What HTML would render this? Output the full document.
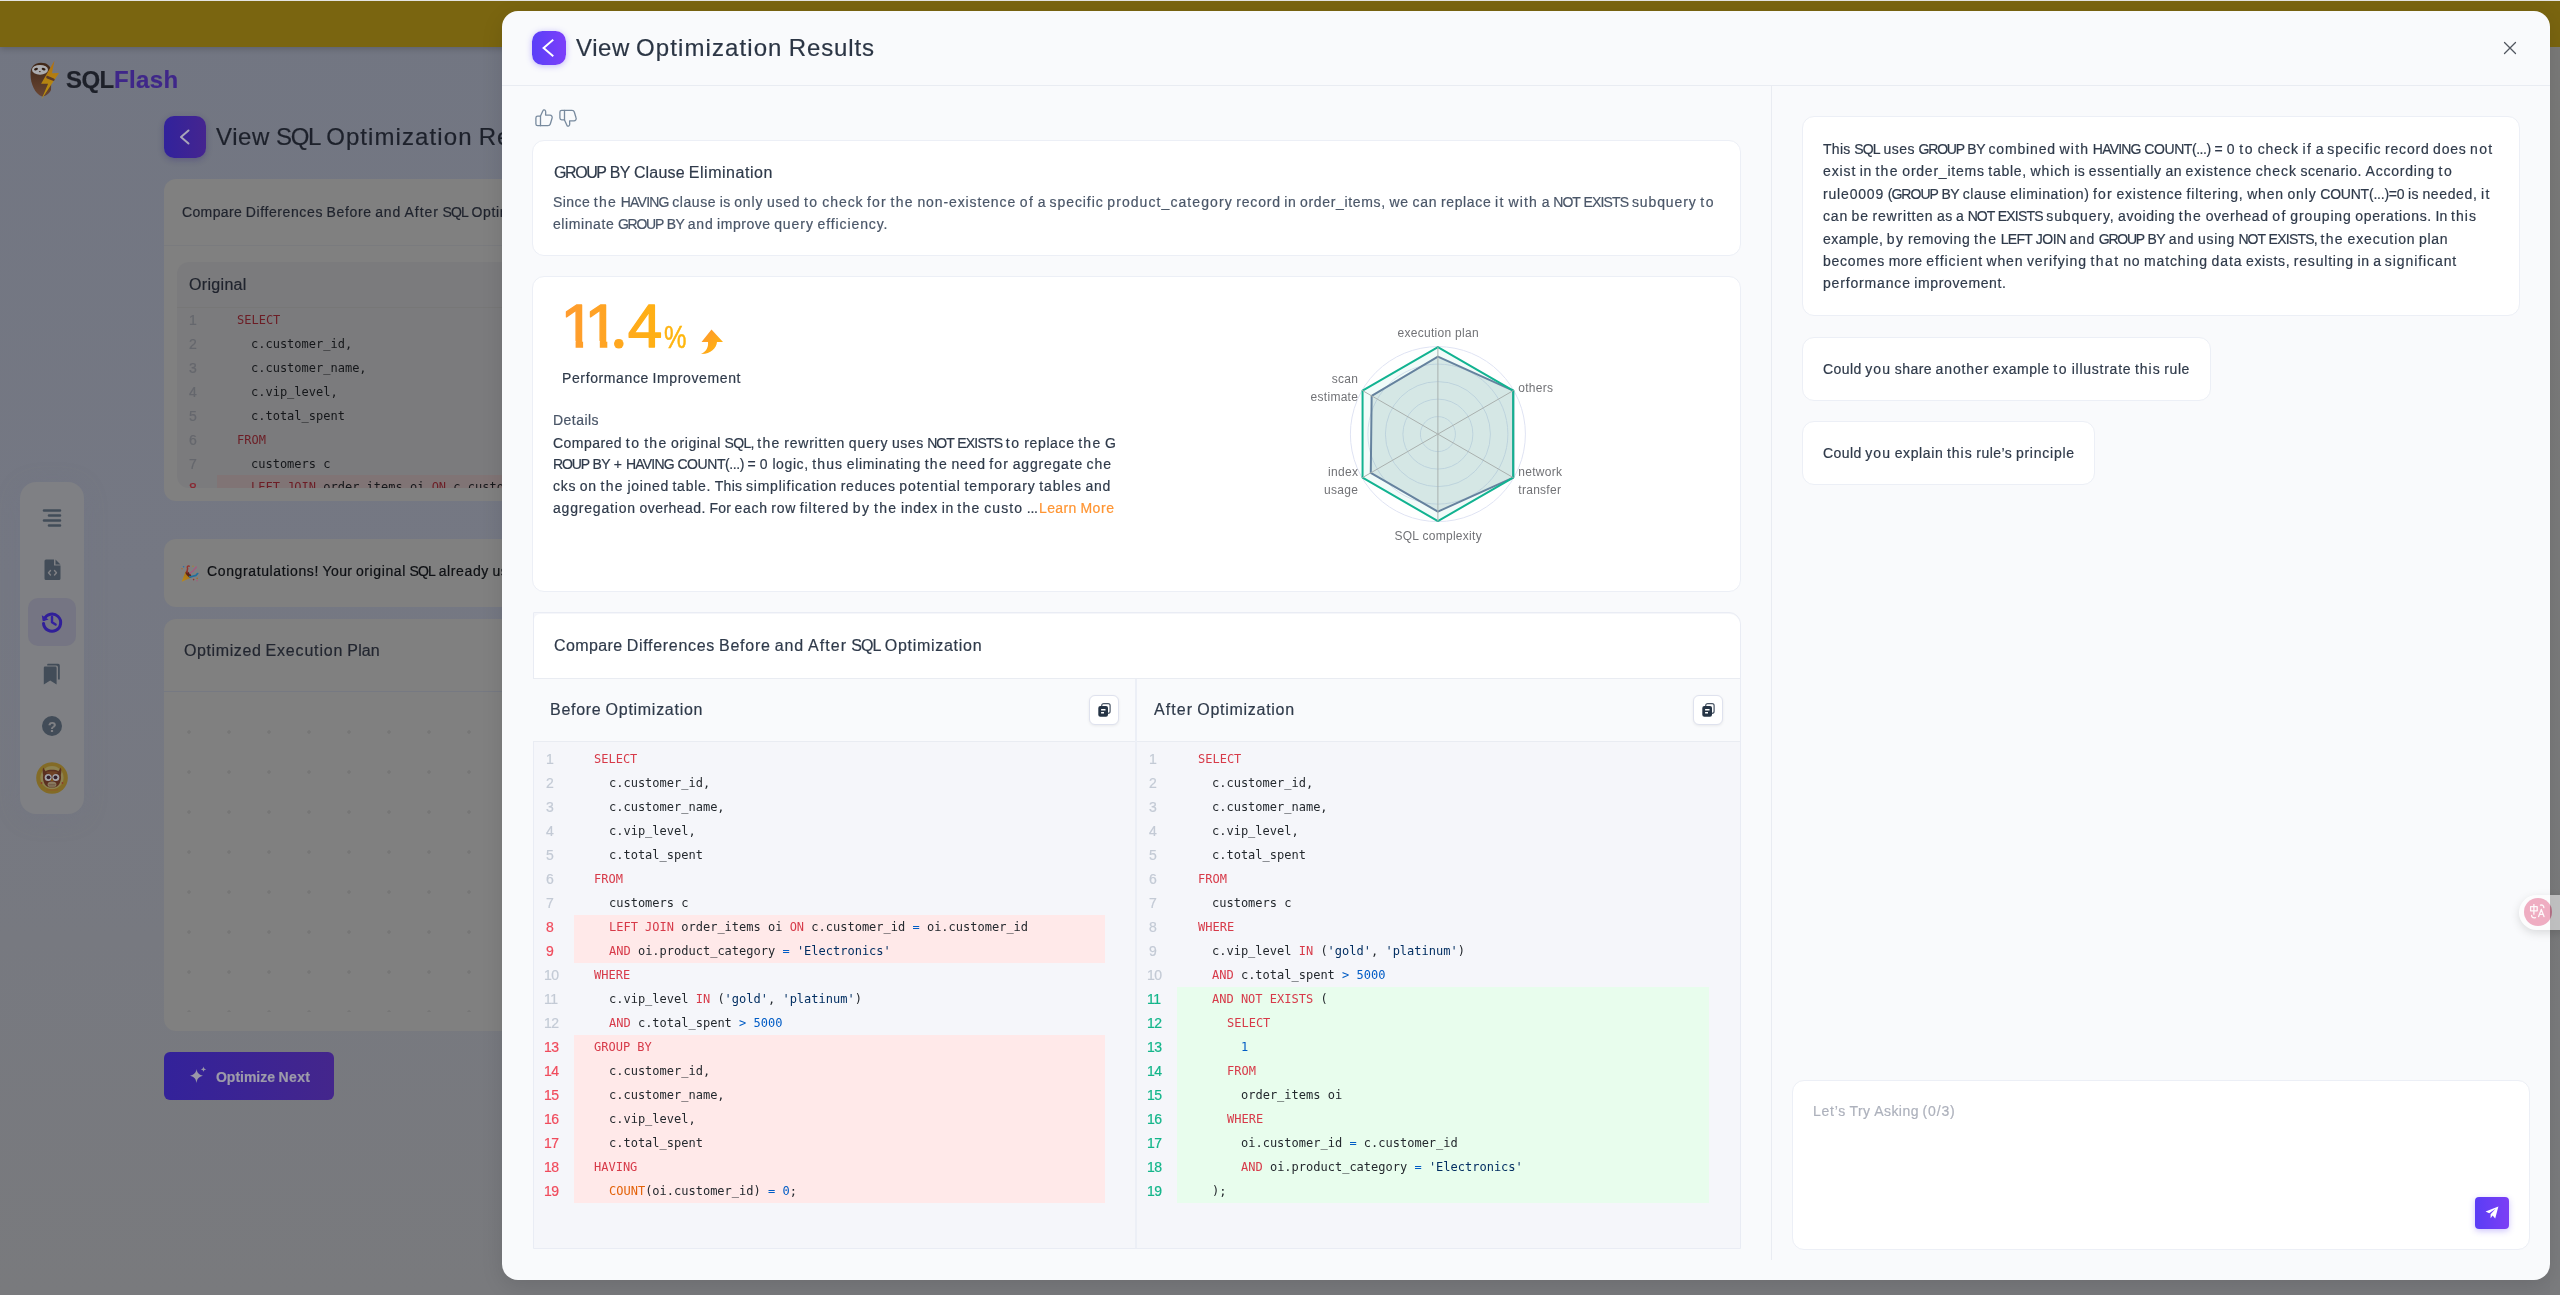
<!DOCTYPE html>
<html lang="en"><head><meta charset="utf-8"><title>SQLFlash - View Optimization Results</title>
<style>
html,body{margin:0;padding:0}
body{width:2560px;height:1295px;overflow:hidden;position:relative;font-family:"Liberation Sans",sans-serif;background:#77797f}
.t{position:absolute;white-space:nowrap;margin:0;will-change:transform;-webkit-text-stroke:0.2px currentColor}
.b{position:absolute;box-sizing:border-box}
.code{position:absolute;white-space:pre;will-change:transform;font-family:"DejaVu Sans Mono","Liberation Mono",monospace;font-size:12px;line-height:24px;color:#24292e}
.k{color:#d73a49}.o{color:#005cc5}.n{color:#005cc5}.s{color:#032f62}.f{color:#e36209}
svg{position:absolute;overflow:visible}
</style></head><body>
<div class="b" style="left:0px;top:0px;width:2560px;height:1295px;background:linear-gradient(180deg,#727682 0%,#757883 45%,#797a7d 100%)"></div>
<div class="b" style="left:0px;top:0px;width:2560px;height:47px;background:#7a6510;box-shadow:0 2px 6px rgba(0,0,0,.18)"></div>
<div class="b" style="left:0px;top:0px;width:2560px;height:1px;background:#e4e4e2"></div>
<svg style="left:30px;top:60px" width="30" height="40" viewBox="0 0 30 40">
<defs><linearGradient id="sl" x1="0" y1="0" x2="0" y2="1"><stop offset="0" stop-color="#3f2718"/><stop offset="1" stop-color="#6a4633"/></linearGradient>
<linearGradient id="bo" x1="0" y1="0" x2="0" y2="1"><stop offset="0" stop-color="#b06f12"/><stop offset="1" stop-color="#b8940f"/></linearGradient></defs>
<path d="M0.5 14C0.5 6 5 2.7 11 2.7C17 2.7 21 6 21.5 12L21 30C19 34 15 36.5 12 36.4C5 34 0.5 24 0.5 14Z" fill="url(#sl)"/>
<ellipse cx="10" cy="9.8" rx="8" ry="4.9" fill="#acacaf"/>
<ellipse cx="6" cy="9.2" rx="2" ry="1.2" transform="rotate(-18 6 9.2)" fill="#2e1c12"/><ellipse cx="13.6" cy="9.2" rx="2" ry="1.2" transform="rotate(18 13.6 9.2)" fill="#2e1c12"/>
<ellipse cx="9.8" cy="11.6" rx="1" ry="0.7" fill="#4a3426"/>
<path d="M24.5 0.5L22 13.2L29 12.9L11.4 39.6L18.1 23.8L11.1 23.8Z" fill="url(#bo)"/>
<path d="M17.5 17.2L23.4 19.6" stroke="#5a3a28" stroke-width="2.6" stroke-linecap="round"/>
</svg>
<div class="t" style="left:66px;top:66.00px;font-size:24px;line-height:27px;color:#1d2029;letter-spacing:-0.615px;font-weight:700;">SQL</div>
<div class="t" style="left:113.8px;top:66.00px;font-size:24px;line-height:27px;color:#3f2789;letter-spacing:0.366px;font-weight:700;">Flash</div>
<div class="b" style="left:164px;top:116px;width:42px;height:42px;border-radius:10px;background:linear-gradient(90deg,#31229c,#45258f);box-shadow:0 2px 6px rgba(40,30,120,.3)"></div>
<svg style="left:177px;top:127px" width="16" height="20" viewBox="0 0 16 20"><path d="M11.5 3.5 L4 10 L11.5 16.5" fill="none" stroke="#a9a6b8" stroke-width="2" stroke-linecap="round" stroke-linejoin="round"/></svg>
<div class="t" style="left:216.25px;top:123.00px;font-size:24px;line-height:27px;color:#1d212b;word-spacing:-0.500px;"><span style="letter-spacing:0.586px">View</span> <span style="letter-spacing:-1.380px">SQL</span> <span style="letter-spacing:1.087px">Optimization</span> <span style="letter-spacing:0.888px">Results</span></div>
<div class="b" style="left:164px;top:179px;width:400px;height:321.5px;border-radius:12px;background:#808080"></div>
<div class="t" style="left:182.00px;top:204.00px;font-size:14px;line-height:16px;color:#1f232d;word-spacing:-0.297px;"><span style="letter-spacing:0.359px">Compare</span> <span style="letter-spacing:0.614px">Differences</span> <span style="letter-spacing:0.641px">Before</span> <span style="letter-spacing:0.766px">and</span> <span style="letter-spacing:0.938px">After</span> <span style="letter-spacing:-0.812px">SQL</span> <span style="letter-spacing:0.635px">Optimization</span></div>
<div class="b" style="left:164px;top:245px;width:400px;height:1px;background:#7a7b7e"></div>
<div class="b" style="left:177px;top:262px;width:400px;height:226px;border-radius:12px 0 0 12px;background:#7b7b7d"></div>
<div class="t" style="left:189.00px;top:276.00px;font-size:16px;line-height:17px;color:#20242e;word-spacing:-0.344px;"><span style="letter-spacing:0.324px">Original</span></div>
<div class="b" style="left:177px;top:307px;width:400px;height:1px;background:#777"></div>
<div class="t" style="left:189px;top:312.00px;font-size:14px;line-height:16px;color:#65676d;">1</div>
<div class="code" style="left:237.0px;top:308px;color:#15171a"><span style="color:#6c1d25">SELECT</span></div>
<div class="t" style="left:189px;top:336.00px;font-size:14px;line-height:16px;color:#65676d;">2</div>
<div class="code" style="left:251.45px;top:332px;color:#15171a">c.customer_id,</div>
<div class="t" style="left:189px;top:360.00px;font-size:14px;line-height:16px;color:#65676d;">3</div>
<div class="code" style="left:251.45px;top:356px;color:#15171a">c.customer_name,</div>
<div class="t" style="left:189px;top:384.00px;font-size:14px;line-height:16px;color:#65676d;">4</div>
<div class="code" style="left:251.45px;top:380px;color:#15171a">c.vip_level,</div>
<div class="t" style="left:189px;top:408.00px;font-size:14px;line-height:16px;color:#65676d;">5</div>
<div class="code" style="left:251.45px;top:404px;color:#15171a">c.total_spent</div>
<div class="t" style="left:189px;top:432.00px;font-size:14px;line-height:16px;color:#65676d;">6</div>
<div class="code" style="left:237.0px;top:428px;color:#15171a"><span style="color:#6c1d25">FROM</span></div>
<div class="t" style="left:189px;top:456.00px;font-size:14px;line-height:16px;color:#65676d;">7</div>
<div class="code" style="left:251.45px;top:452px;color:#15171a">customers c</div>
<div class="b" style="left:217px;top:475px;width:300px;height:13px;background:#807475"></div>
<div class="b" style="left:177px;top:475px;width:330px;height:13px;overflow:hidden"><div class="t" style="left:12px;top:1px;font-size:14px;line-height:24px;color:#8a2630">8</div><div class="code" style="left:74.45px;top:0;color:#15171a"><span style="color:#6c1d25">LEFT JOIN</span> order_items oi <span style="color:#6c1d25">ON</span> c.customer_id</div></div>
<div class="b" style="left:164px;top:539px;width:400px;height:68px;border-radius:12px;background:#808080"></div>
<svg style="left:180.5px;top:564.5px" width="18" height="18" viewBox="0 0 18 18"><defs><linearGradient id="cone" x1="0" y1="1" x2="1" y2="0"><stop offset="0" stop-color="#b98c1a"/><stop offset="1" stop-color="#a86a18"/></linearGradient></defs><path d="M0.6 16.8 L4.6 6.4 C6.5 6.2 10.6 10 10.4 12.4 Z" fill="url(#cone)"/><ellipse cx="7.4" cy="9.4" rx="1.7" ry="3.7" transform="rotate(-42 7.4 9.4)" fill="#5a2418"/><path d="M6.2 7.6 C5.2 5.6 7.4 4.6 6.4 2.6 C6 1.6 7 0.6 8.2 1.2" fill="none" stroke="#96302a" stroke-width="1.5" stroke-linecap="round"/><path d="M9 8.6 C9.6 6.2 12.2 7.4 12.8 5 C13.2 3.6 15.2 3.8 15.2 2" fill="none" stroke="#a8587e" stroke-width="1.4" stroke-linecap="round"/><path d="M8.6 11.6 C10.8 12.6 12 10.6 14.2 10.6 C15.8 10.6 15.6 8.6 16.8 8.6" fill="none" stroke="#1f6fa0" stroke-width="1.6" stroke-linecap="round"/><circle cx="2.6" cy="1.8" r="0.8" fill="#2c6fa6"/><circle cx="1" cy="3.8" r="0.7" fill="#a8682a"/><circle cx="12" cy="1.2" r="0.7" fill="#a8842a"/><circle cx="16.2" cy="13.4" r="0.8" fill="#a8682a"/><circle cx="12.6" cy="14.6" r="0.8" fill="#96302a"/><circle cx="16" cy="15.8" r="0.7" fill="#a8587e"/></svg>
<div class="t" style="left:207.00px;top:563.00px;font-size:14px;line-height:16px;color:#0e1014;word-spacing:-0.297px;"><span style="letter-spacing:0.625px">Congratulations!</span> <span style="letter-spacing:0.387px">Your</span> <span style="letter-spacing:0.594px">original</span> <span style="letter-spacing:-0.812px">SQL</span> <span style="letter-spacing:0.621px">already</span> <span style="letter-spacing:0.508px">uses</span></div>
<div class="b" style="left:164px;top:619px;width:400px;height:412px;border-radius:12px;background:#808080"></div>
<div class="t" style="left:184.30px;top:642.00px;font-size:16px;line-height:17px;color:#222630;word-spacing:-0.344px;"><span style="letter-spacing:0.595px">Optimized</span> <span style="letter-spacing:0.830px">Execution</span> <span style="letter-spacing:0.125px">Plan</span></div>
<div class="b" style="left:164px;top:691px;width:400px;height:1px;background:#767982"></div>
<div class="b" style="left:168.5px;top:711.7px;width:400px;height:300px;background-image:radial-gradient(circle,#767676 1.4px,transparent 2.1px);background-size:40px 40px;background-position:0 0"></div>
<div class="b" style="left:164px;top:1052px;width:170px;height:48px;border-radius:6px;background:linear-gradient(90deg,#33229a,#44268c)"></div>
<svg style="left:189px;top:1066px" width="18" height="18" viewBox="0 0 18 18"><path d="M7.5 3 C8.2 7 9.5 8.3 14 9.8 C9.5 11.2 8.2 12.5 7.5 17 C6.8 12.5 5.5 11.2 1 9.8 C5.5 8.3 6.8 7 7.5 3Z" fill="#9a98a8"/><path d="M14.5 0.5 C14.8 2.3 15.3 2.8 17.3 3.3 C15.3 3.8 14.8 4.3 14.5 6.1 C14.2 4.3 13.7 3.8 11.7 3.3 C13.7 2.8 14.2 2.3 14.5 0.5Z" fill="#9a98a8"/></svg>
<div class="t" style="left:216.40px;top:1069.00px;font-size:14px;line-height:16px;color:#9d9baa;word-spacing:-0.328px;font-weight:700;"><span style="letter-spacing:-0.021px">Optimize</span> <span style="letter-spacing:0.359px">Next</span></div>
<div class="b" style="left:20px;top:482px;width:64px;height:332px;border-radius:16px;background:#7f8084;box-shadow:0 4px 24px rgba(110,115,135,.22)"></div>
<div class="b" style="left:28px;top:598px;width:48px;height:48px;border-radius:10px;background:#757583"></div>
<svg style="left:42px;top:508px" width="20" height="20" viewBox="0 0 20 20"><g stroke="#424c58" stroke-width="2.6" stroke-linecap="round"><path d="M2 2.5H18M7 7.5H18M2 12.5H18M7 17.5H18"/></g></svg>
<svg style="left:44px;top:559px" width="17" height="22" viewBox="0 0 17 22"><path d="M2 0.5H10V6.5H16.5V19.5a1.5 1.5 0 0 1 -1.5 1.5H2a1.5 1.5 0 0 1 -1.5 -1.5V2A1.5 1.5 0 0 1 2 0.5Z" fill="#424c58"/><path d="M11.5 0.5 L16.5 5.5H11.5Z" fill="#424c58"/><path d="M6.5 11.5 L4.5 13.7 L6.5 16 M10.5 11.5 L12.5 13.7 L10.5 16" fill="none" stroke="#808185" stroke-width="1.4" stroke-linecap="round" stroke-linejoin="round"/></svg>
<svg style="left:41px;top:611px" width="22" height="22" viewBox="0 0 22 22"><path d="M3.2 8.2 A8.6 8.6 0 1 1 2.5 12.5" fill="none" stroke="#301f99" stroke-width="3" stroke-linecap="round"/><path d="M0.8 4.2 L1.8 10.2 L7.6 8.6 Z" fill="#33219f"/><path d="M11 5.8V11.3L14.6 13.6" fill="none" stroke="#33219f" stroke-width="2.4" stroke-linecap="round" stroke-linejoin="round"/></svg>
<svg style="left:43px;top:663px" width="18" height="22" viewBox="0 0 18 22"><path d="M5 0.8H15.2a1.6 1.6 0 0 1 1.6 1.6V16.5H15V4.2a1.8 1.8 0 0 0 -1.8 -1.8H4.2V1.6A0.8 0.8 0 0 1 5 0.8Z" fill="#424c58"/><path d="M2 3.6H12.2a1.4 1.4 0 0 1 1.4 1.4V21.5L7.2 17.6 L0.8 21.5V4.8A1.2 1.2 0 0 1 2 3.6Z" fill="#424c58"/></svg>
<div class="b" style="left:42px;top:716px;width:20px;height:20px;border-radius:50%;background:#424c58"></div>
<div class="t" style="left:48.2px;top:718.50px;font-size:14px;line-height:16px;color:#808185;font-weight:700;">?</div>
<svg style="left:36px;top:762px" width="32" height="32" viewBox="0 0 32 32"><circle cx="16" cy="16" r="15.8" fill="#836b26"/><circle cx="16" cy="15.6" r="11.6" fill="#8c8150"/><path d="M7.2 5.6 L9.6 9.2 C12.5 7.4 19.5 7.4 22.4 9.2 L24.8 5.6 C25.6 8 25.4 11 24.8 13 C25.8 18 23.5 23.6 20 25 C17.5 26 14.5 26 12 25 C8.5 23.6 6.2 18 7.2 13 C6.6 11 6.4 8 7.2 5.6Z" fill="#5a3021"/><path d="M10 10.2 C13 8.8 19 8.8 22 10.2 C20 12.6 17.5 12.2 16 14 C14.5 12.2 12 12.6 10 10.2Z" fill="#6e4226"/><circle cx="12.2" cy="15.4" r="3.5" fill="#a4a4a9"/><circle cx="19.8" cy="15.4" r="3.5" fill="#a4a4a9"/><circle cx="12.5" cy="15.3" r="1.9" fill="#33202c"/><circle cx="19.5" cy="15.3" r="1.9" fill="#33202c"/><path d="M16 16.2 L14.9 18.6 Q16 19.6 17.1 18.6Z" fill="#8a5a14"/><ellipse cx="16" cy="22.6" rx="4.4" ry="3" fill="#8b7c62"/><path d="M12.6 22.4H19.4M13 24H19" stroke="#6a5340" stroke-width="0.8"/><circle cx="5.6" cy="21" r="0.9" fill="#8a3a2a"/><circle cx="26.4" cy="21" r="0.9" fill="#8a3a2a"/><rect x="10.4" y="27.4" width="11.6" height="1" rx="0.5" fill="#8e5a2a"/></svg>
<div class="b" style="left:2550px;top:1px;width:10px;height:1294px;background:linear-gradient(180deg,#7a6510 0,#7a6510 46px,#7a7a79 46px,#7b7c7e 100%)"></div>
<div class="b" style="left:502px;top:11px;width:2048px;height:1269px;border-radius:16px;background:#f9fafc;box-shadow:0 6px 22px rgba(0,0,0,.11)"></div>
<div class="b" style="left:502px;top:85px;width:2048px;height:1px;background:#e9ecf2"></div>
<div class="b" style="left:1771px;top:86px;width:1px;height:1174px;background:#e9ecf2"></div>
<div class="b" style="left:532px;top:31px;width:34px;height:34px;border-radius:10.5px;background:linear-gradient(90deg,#5a3ff8,#7c3ffa);box-shadow:0 1px 6px rgba(90,61,245,.35)"></div>
<svg style="left:532px;top:31px" width="34" height="34" viewBox="0 0 34 34"><path d="M20.5 9.3 L11.6 17.1 L20.5 24.7" fill="none" stroke="#fff" stroke-width="2" stroke-linecap="square" stroke-linejoin="miter"/></svg>
<div class="t" style="left:576.25px;top:34.20px;font-size:24px;line-height:27px;color:#2b3544;word-spacing:-0.500px;"><span style="letter-spacing:0.586px">View</span> <span style="letter-spacing:1.087px">Optimization</span> <span style="letter-spacing:0.888px">Results</span></div>
<svg style="left:2504px;top:42px" width="12" height="12" viewBox="0 0 12 12"><path d="M0.5 0.5 L11.5 11.5 M11.5 0.5 L0.5 11.5" fill="none" stroke="#50565f" stroke-width="1.25" stroke-linecap="round"/></svg>
<svg style="left:534.6px;top:109.1px" width="18" height="18" viewBox="0 0 18 18" fill="none" stroke="#788a9e" stroke-width="1.3" stroke-linecap="round" stroke-linejoin="round"><path d="M5.5 7.1H2.7a1.8 1.8 0 0 0-1.8 1.8V14.9a1.8 1.8 0 0 0 1.8 1.8H5.5Z"/><path d="M5.5 7.1 L8 1.6C8.3 0.8 9.2 0.6 9.8 1 10.6 1.6 10.8 2.4 10.7 3.2L10.6 6.1H15a2.2 2.2 0 0 1 2.1 2.9L15.3 15a2.4 2.4 0 0 1-2.3 1.7H5.5"/></svg>
<svg style="left:558.9px;top:108.7px" width="18" height="18" viewBox="0 0 18 18" fill="none" stroke="#788a9e" stroke-width="1.3" stroke-linecap="round" stroke-linejoin="round"><g transform="translate(0,18) scale(1,-1)"><path d="M5.5 7.1H2.7a1.8 1.8 0 0 0-1.8 1.8V14.9a1.8 1.8 0 0 0 1.8 1.8H5.5Z"/><path d="M5.5 7.1 L8 1.6C8.3 0.8 9.2 0.6 9.8 1 10.6 1.6 10.8 2.4 10.7 3.2L10.6 6.1H15a2.2 2.2 0 0 1 2.1 2.9L15.3 15a2.4 2.4 0 0 1-2.3 1.7H5.5"/></g></svg>
<div class="b" style="left:532px;top:140px;width:1209px;height:116px;border-radius:12px;background:#fff;border:1px solid #eceff6"></div>
<div class="t" style="left:553.50px;top:164.00px;font-size:16px;line-height:17px;color:#2f3a4a;word-spacing:-0.344px;"><span style="letter-spacing:-1.416px">GROUP</span> <span style="letter-spacing:-0.633px">BY</span> <span style="letter-spacing:0.174px">Clause</span> <span style="letter-spacing:0.518px">Elimination</span></div>
<div class="t" style="left:553.00px;top:194.00px;font-size:14px;line-height:16px;color:#4a5668;word-spacing:-0.297px;"><span style="letter-spacing:0.447px">Since</span> <span style="letter-spacing:1.281px">the</span> <span style="letter-spacing:-0.794px">HAVING</span> <span style="letter-spacing:0.573px">clause</span> <span style="letter-spacing:0.352px">is</span> <span style="letter-spacing:0.891px">only</span> <span style="letter-spacing:0.723px">used</span> <span style="letter-spacing:1.586px">to</span> <span style="letter-spacing:0.916px">check</span> <span style="letter-spacing:1.156px">for</span> <span style="letter-spacing:1.281px">the</span> <span style="letter-spacing:0.887px">non-existence</span> <span style="letter-spacing:1.445px">of</span> <span style="letter-spacing:0.266px">a</span> <span style="letter-spacing:0.934px">specific</span> <span style="letter-spacing:1.081px">product_category</span> <span style="letter-spacing:0.789px">record</span> <span style="letter-spacing:0.562px">in</span> <span style="letter-spacing:0.669px">order_items,</span> <span style="letter-spacing:0.734px">we</span> <span style="letter-spacing:0.812px">can</span> <span style="letter-spacing:0.627px">replace</span> <span style="letter-spacing:1.438px">it</span> <span style="letter-spacing:1.195px">with</span> <span style="letter-spacing:0.266px">a</span> <span style="letter-spacing:-1.031px">NOT</span> <span style="letter-spacing:-0.812px">EXISTS</span> <span style="letter-spacing:0.887px">subquery</span> <span style="letter-spacing:1.586px">to</span></div>
<div class="t" style="left:553.00px;top:216.00px;font-size:14px;line-height:16px;color:#4a5668;word-spacing:-0.297px;"><span style="letter-spacing:0.587px">eliminate</span> <span style="letter-spacing:-1.238px">GROUP</span> <span style="letter-spacing:-0.562px">BY</span> <span style="letter-spacing:0.766px">and</span> <span style="letter-spacing:0.522px">improve</span> <span style="letter-spacing:0.941px">query</span> <span style="letter-spacing:0.908px">efficiency.</span></div>
<div class="b" style="left:532px;top:276px;width:1209px;height:316px;border-radius:12px;background:#fff;border:1px solid #eceff6"></div>
<svg style="left:540px;top:280px;will-change:transform" width="200" height="90" viewBox="540 280 200 90"><defs><linearGradient id="ng" gradientUnits="userSpaceOnUse" x1="560" y1="0" x2="690" y2="0"><stop offset="0" stop-color="#ff9a30"/><stop offset="1" stop-color="#ffb80a"/></linearGradient></defs>
<text x="560.4 584.6 610.2 627.8" y="347.3" style="font-family:'Liberation Sans',sans-serif;font-size:62px" fill="url(#ng)" stroke="url(#ng)" stroke-width="1.3" stroke-linejoin="round">11.4</text>
<text x="664" y="348" textLength="22.5" lengthAdjust="spacingAndGlyphs" style="font-family:'Liberation Sans',sans-serif;font-size:31px" fill="url(#ng)" stroke="url(#ng)" stroke-width="0.5">%</text>
<rect x="556" y="340.9" width="19.6" height="9" fill="#fff"/><rect x="583.1" y="340.9" width="16.7" height="9" fill="#fff"/><rect x="607.3" y="340.9" width="18" height="9" fill="#fff"/>
<circle cx="618.8" cy="343.8" r="4.8" fill="url(#ng)"/></svg>
<svg style="left:700px;top:329px" width="24" height="26" viewBox="0 0 24 26"><defs><linearGradient id="ag" x1="0" y1="0" x2="1" y2="1"><stop offset="0" stop-color="#ff9533"/><stop offset="1" stop-color="#ffba08"/></linearGradient></defs><path d="M11.5 0.5 L23 13 H17 C16.5 19.5 10 25.5 1 25 C6.5 22.5 8.5 18 8 13 H1.5 Z" fill="url(#ag)"/></svg>
<div class="t" style="left:561.50px;top:370.00px;font-size:14px;line-height:16px;color:#2f3a4a;word-spacing:-0.297px;"><span style="letter-spacing:0.615px">Performance</span> <span style="letter-spacing:0.626px">Improvement</span></div>
<div class="t" style="left:553.00px;top:412.00px;font-size:14px;line-height:16px;color:#4a5668;word-spacing:-0.297px;"><span style="letter-spacing:0.455px">Details</span></div>
<div class="t" style="left:553.00px;top:434.50px;font-size:14px;line-height:16px;color:#2f3a4a;word-spacing:-0.297px;"><span style="letter-spacing:0.469px">Compared</span> <span style="letter-spacing:1.586px">to</span> <span style="letter-spacing:1.281px">the</span> <span style="letter-spacing:0.594px">original</span> <span style="letter-spacing:-0.703px">SQL,</span> <span style="letter-spacing:1.281px">the</span> <span style="letter-spacing:0.807px">rewritten</span> <span style="letter-spacing:0.941px">query</span> <span style="letter-spacing:0.508px">uses</span> <span style="letter-spacing:-1.031px">NOT</span> <span style="letter-spacing:-0.812px">EXISTS</span> <span style="letter-spacing:1.586px">to</span> <span style="letter-spacing:0.627px">replace</span> <span style="letter-spacing:1.281px">the</span> <span style="letter-spacing:-1.656px">G</span></div>
<div class="t" style="left:553.00px;top:456.40px;font-size:14px;line-height:16px;color:#2f3a4a;word-spacing:-0.297px;"><span style="letter-spacing:-1.133px">ROUP</span> <span style="letter-spacing:-0.562px">BY</span> <span style="letter-spacing:0.516px">+</span> <span style="letter-spacing:-0.794px">HAVING</span> <span style="letter-spacing:-0.431px">COUNT(...)</span> <span style="letter-spacing:0.516px">=</span> <span style="letter-spacing:1.188px">0</span> <span style="letter-spacing:0.607px">logic,</span> <span style="letter-spacing:1.098px">thus</span> <span style="letter-spacing:0.669px">eliminating</span> <span style="letter-spacing:1.281px">the</span> <span style="letter-spacing:0.758px">need</span> <span style="letter-spacing:1.156px">for</span> <span style="letter-spacing:0.797px">aggregate</span> <span style="letter-spacing:0.891px">che</span></div>
<div class="t" style="left:553.00px;top:478.30px;font-size:14px;line-height:16px;color:#2f3a4a;word-spacing:-0.297px;"><span style="letter-spacing:0.698px">cks</span> <span style="letter-spacing:0.836px">on</span> <span style="letter-spacing:1.281px">the</span> <span style="letter-spacing:0.680px">joined</span> <span style="letter-spacing:0.732px">table.</span> <span style="letter-spacing:0.297px">This</span> <span style="letter-spacing:0.786px">simplification</span> <span style="letter-spacing:0.734px">reduces</span> <span style="letter-spacing:0.965px">potential</span> <span style="letter-spacing:0.905px">temporary</span> <span style="letter-spacing:0.867px">tables</span> <span style="letter-spacing:0.766px">and</span></div>
<div class="t" style="left:553.00px;top:500.20px;font-size:14px;line-height:16px;color:#2f3a4a;word-spacing:-0.297px;"><span style="letter-spacing:0.811px">aggregation</span> <span style="letter-spacing:0.469px">overhead.</span> <span style="letter-spacing:0.146px">For</span> <span style="letter-spacing:0.688px">each</span> <span style="letter-spacing:0.740px">row</span> <span style="letter-spacing:0.939px">filtered</span> <span style="letter-spacing:1.398px">by</span> <span style="letter-spacing:1.281px">the</span> <span style="letter-spacing:0.738px">index</span> <span style="letter-spacing:0.562px">in</span> <span style="letter-spacing:1.281px">the</span> <span style="letter-spacing:1.109px">custo</span> <span style="letter-spacing:-0.344px">...</span></div>
<div class="t" style="left:1039.41px;top:500.20px;font-size:14px;line-height:16px;color:#ff9533;word-spacing:-0.297px;"><span style="letter-spacing:0.400px">Learn</span> <span style="letter-spacing:0.551px">More</span></div>
<svg style="left:1280px;top:310px;will-change:transform" width="320" height="250" viewBox="1280 310 320 250">
<circle cx="1437.9" cy="434.1" r="17.50" fill="none" stroke="#dfe3f3" stroke-width="1"/>
<circle cx="1437.9" cy="434.1" r="35.00" fill="none" stroke="#dfe3f3" stroke-width="1"/>
<circle cx="1437.9" cy="434.1" r="52.50" fill="none" stroke="#dfe3f3" stroke-width="1"/>
<circle cx="1437.9" cy="434.1" r="70.00" fill="none" stroke="#dfe3f3" stroke-width="1"/>
<circle cx="1437.9" cy="434.1" r="87.50" fill="none" stroke="#dfe3f3" stroke-width="1"/>
<polygon points="1437.90,356.60 1371.65,395.85 1370.78,472.85 1437.90,511.60 1513.24,477.60 1513.24,390.60" fill="rgba(120,160,160,0.22)" stroke="#6b7f9f" stroke-width="2" stroke-linejoin="round"/>
<polygon points="1437.90,347.10 1362.56,390.60 1362.56,477.60 1437.90,521.10 1513.24,477.60 1513.24,390.60" fill="rgba(25,179,148,0.06)" stroke="#12b391" stroke-width="2" stroke-linejoin="round"/>
<line x1="1437.9" y1="434.1" x2="1437.90" y2="346.60" stroke="#a9b0ae" stroke-width="1"/>
<line x1="1437.9" y1="434.1" x2="1362.12" y2="390.35" stroke="#a9b0ae" stroke-width="1"/>
<line x1="1437.9" y1="434.1" x2="1362.12" y2="477.85" stroke="#a9b0ae" stroke-width="1"/>
<line x1="1437.9" y1="434.1" x2="1437.90" y2="521.60" stroke="#a9b0ae" stroke-width="1"/>
<line x1="1437.9" y1="434.1" x2="1513.68" y2="477.85" stroke="#a9b0ae" stroke-width="1"/>
<line x1="1437.9" y1="434.1" x2="1513.68" y2="390.35" stroke="#a9b0ae" stroke-width="1"/>
<text x="1438.2" y="337.3" text-anchor="middle" style="font-family:'Liberation Sans',sans-serif;font-size:12px;fill:#717276;letter-spacing:0.28px">execution plan</text>
<text x="1438.2" y="540.3" text-anchor="middle" style="font-family:'Liberation Sans',sans-serif;font-size:12px;fill:#717276;letter-spacing:0.28px">SQL complexity</text>
<text x="1518.3" y="392.3" style="font-family:'Liberation Sans',sans-serif;font-size:12px;fill:#717276;letter-spacing:0.28px">others</text>
<text x="1518.3" y="475.8" style="font-family:'Liberation Sans',sans-serif;font-size:12px;fill:#717276;letter-spacing:0.28px">network</text>
<text x="1518.3" y="494" style="font-family:'Liberation Sans',sans-serif;font-size:12px;fill:#717276;letter-spacing:0.28px">transfer</text>
<text x="1358.2" y="383.3" text-anchor="end" style="font-family:'Liberation Sans',sans-serif;font-size:12px;fill:#717276;letter-spacing:0.28px">scan</text>
<text x="1358.2" y="401.3" text-anchor="end" style="font-family:'Liberation Sans',sans-serif;font-size:12px;fill:#717276;letter-spacing:0.28px">estimate</text>
<text x="1358.2" y="475.8" text-anchor="end" style="font-family:'Liberation Sans',sans-serif;font-size:12px;fill:#717276;letter-spacing:0.28px">index</text>
<text x="1358.2" y="494" text-anchor="end" style="font-family:'Liberation Sans',sans-serif;font-size:12px;fill:#717276;letter-spacing:0.28px">usage</text>
</svg>
<div class="b" style="left:532.5px;top:612px;width:1208.5px;height:637px;border-radius:1px 12px 0 0;background:#f5f6fa;border:1.5px solid #e9ecf4"></div>
<div class="b" style="left:534px;top:613.5px;width:1206px;height:64.5px;border-radius:6px 11px 0 0;background:#fff"></div>
<div class="t" style="left:554.25px;top:637.00px;font-size:16px;line-height:17px;color:#2f3a4a;word-spacing:-0.344px;"><span style="letter-spacing:0.400px">Compare</span> <span style="letter-spacing:0.692px">Differences</span> <span style="letter-spacing:0.724px">Before</span> <span style="letter-spacing:0.865px">and</span> <span style="letter-spacing:1.072px">After</span> <span style="letter-spacing:-0.927px">SQL</span> <span style="letter-spacing:0.717px">Optimization</span></div>
<div class="b" style="left:533px;top:678px;width:1207px;height:1px;background:#e9ecf2"></div>
<div class="b" style="left:533px;top:679px;width:602px;height:62px;background:#f9fafc"></div>
<div class="t" style="left:550.00px;top:701.00px;font-size:16px;line-height:17px;color:#2f3a4a;word-spacing:-0.344px;"><span style="letter-spacing:0.724px">Before</span> <span style="letter-spacing:0.717px">Optimization</span></div>
<div class="b" style="left:1089px;top:695px;width:30px;height:30px;border-radius:6px;background:#fff;border:1px solid #dfe2ee;box-shadow:0 1px 3px rgba(0,0,0,.07)"></div>
<svg style="left:1098px;top:703px" width="13" height="14" viewBox="0 0 13 14"><rect x="3.7" y="0.6" width="8.4" height="9.7" rx="2" fill="none" stroke="#4a5666" stroke-width="1.2"/><rect x="0.3" y="3" width="9.7" height="10.7" rx="2" fill="#253445"/><path d="M3.1 6.85H7.5M3.1 9.85H6" stroke="#fff" stroke-width="1.5"/></svg>
<div class="t" style="left:545.7px;top:750.90px;font-size:14px;line-height:16px;color:#c3cad5;letter-spacing:0.000px;">1</div>
<div class="code" style="left:594.20px;top:746.70px"><span class="k">SELECT</span></div>
<div class="t" style="left:545.7px;top:774.90px;font-size:14px;line-height:16px;color:#c3cad5;letter-spacing:0.000px;">2</div>
<div class="code" style="left:608.65px;top:770.70px">c.customer_id,</div>
<div class="t" style="left:545.7px;top:798.90px;font-size:14px;line-height:16px;color:#c3cad5;letter-spacing:0.000px;">3</div>
<div class="code" style="left:608.65px;top:794.70px">c.customer_name,</div>
<div class="t" style="left:545.7px;top:822.90px;font-size:14px;line-height:16px;color:#c3cad5;letter-spacing:0.000px;">4</div>
<div class="code" style="left:608.65px;top:818.70px">c.vip_level,</div>
<div class="t" style="left:545.7px;top:846.90px;font-size:14px;line-height:16px;color:#c3cad5;letter-spacing:0.000px;">5</div>
<div class="code" style="left:608.65px;top:842.70px">c.total_spent</div>
<div class="t" style="left:545.7px;top:870.90px;font-size:14px;line-height:16px;color:#c3cad5;letter-spacing:0.000px;">6</div>
<div class="code" style="left:594.20px;top:866.70px"><span class="k">FROM</span></div>
<div class="t" style="left:545.7px;top:894.90px;font-size:14px;line-height:16px;color:#c3cad5;letter-spacing:0.000px;">7</div>
<div class="code" style="left:608.65px;top:890.70px">customers c</div>
<div class="b" style="left:574px;top:914.7px;width:531px;height:24px;background:#ffe9e9"></div>
<div class="t" style="left:545.7px;top:918.90px;font-size:14px;line-height:16px;color:#f04b5c;letter-spacing:0.000px;">8</div>
<div class="code" style="left:608.65px;top:914.70px"><span class="k">LEFT JOIN</span> order_items oi <span class="k">ON</span> c.customer_id <span class="o">=</span> oi.customer_id</div>
<div class="b" style="left:574px;top:938.7px;width:531px;height:24px;background:#ffe9e9"></div>
<div class="t" style="left:545.7px;top:942.90px;font-size:14px;line-height:16px;color:#f04b5c;letter-spacing:0.000px;">9</div>
<div class="code" style="left:608.65px;top:938.70px"><span class="k">AND</span> oi.product_category <span class="o">=</span> <span class="s">'Electronics'</span></div>
<div class="t" style="left:544.2px;top:966.90px;font-size:14px;line-height:16px;color:#c3cad5;letter-spacing:-0.500px;">10</div>
<div class="code" style="left:594.20px;top:962.70px"><span class="k">WHERE</span></div>
<div class="t" style="left:544.2px;top:990.90px;font-size:14px;line-height:16px;color:#c3cad5;letter-spacing:-0.500px;">11</div>
<div class="code" style="left:608.65px;top:986.70px">c.vip_level <span class="k">IN</span> (<span class="s">'gold'</span>, <span class="s">'platinum'</span>)</div>
<div class="t" style="left:544.2px;top:1014.90px;font-size:14px;line-height:16px;color:#c3cad5;letter-spacing:-0.500px;">12</div>
<div class="code" style="left:608.65px;top:1010.70px"><span class="k">AND</span> c.total_spent <span class="o">&gt;</span> <span class="o">5000</span></div>
<div class="b" style="left:574px;top:1034.7px;width:531px;height:24px;background:#ffe9e9"></div>
<div class="t" style="left:544.2px;top:1038.90px;font-size:14px;line-height:16px;color:#f04b5c;letter-spacing:-0.500px;">13</div>
<div class="code" style="left:594.20px;top:1034.70px"><span class="k">GROUP BY</span></div>
<div class="b" style="left:574px;top:1058.7px;width:531px;height:24px;background:#ffe9e9"></div>
<div class="t" style="left:544.2px;top:1062.90px;font-size:14px;line-height:16px;color:#f04b5c;letter-spacing:-0.500px;">14</div>
<div class="code" style="left:608.65px;top:1058.70px">c.customer_id,</div>
<div class="b" style="left:574px;top:1082.7px;width:531px;height:24px;background:#ffe9e9"></div>
<div class="t" style="left:544.2px;top:1086.90px;font-size:14px;line-height:16px;color:#f04b5c;letter-spacing:-0.500px;">15</div>
<div class="code" style="left:608.65px;top:1082.70px">c.customer_name,</div>
<div class="b" style="left:574px;top:1106.7px;width:531px;height:24px;background:#ffe9e9"></div>
<div class="t" style="left:544.2px;top:1110.90px;font-size:14px;line-height:16px;color:#f04b5c;letter-spacing:-0.500px;">16</div>
<div class="code" style="left:608.65px;top:1106.70px">c.vip_level,</div>
<div class="b" style="left:574px;top:1130.7px;width:531px;height:24px;background:#ffe9e9"></div>
<div class="t" style="left:544.2px;top:1134.90px;font-size:14px;line-height:16px;color:#f04b5c;letter-spacing:-0.500px;">17</div>
<div class="code" style="left:608.65px;top:1130.70px">c.total_spent</div>
<div class="b" style="left:574px;top:1154.7px;width:531px;height:24px;background:#ffe9e9"></div>
<div class="t" style="left:544.2px;top:1158.90px;font-size:14px;line-height:16px;color:#f04b5c;letter-spacing:-0.500px;">18</div>
<div class="code" style="left:594.20px;top:1154.70px"><span class="k">HAVING</span></div>
<div class="b" style="left:574px;top:1178.7px;width:531px;height:24px;background:#ffe9e9"></div>
<div class="t" style="left:544.2px;top:1182.90px;font-size:14px;line-height:16px;color:#f04b5c;letter-spacing:-0.500px;">19</div>
<div class="code" style="left:608.65px;top:1178.70px"><span class="f">COUNT</span>(oi.customer_id) <span class="o">=</span> <span class="o">0</span>;</div>
<div class="b" style="left:1136px;top:679px;width:604px;height:62px;background:#f9fafc"></div>
<div class="t" style="left:1153.65px;top:701.00px;font-size:16px;line-height:17px;color:#2f3a4a;word-spacing:-0.344px;"><span style="letter-spacing:1.072px">After</span> <span style="letter-spacing:0.717px">Optimization</span></div>
<div class="b" style="left:1693px;top:695px;width:30px;height:30px;border-radius:6px;background:#fff;border:1px solid #dfe2ee;box-shadow:0 1px 3px rgba(0,0,0,.07)"></div>
<svg style="left:1702px;top:703px" width="13" height="14" viewBox="0 0 13 14"><rect x="3.7" y="0.6" width="8.4" height="9.7" rx="2" fill="none" stroke="#4a5666" stroke-width="1.2"/><rect x="0.3" y="3" width="9.7" height="10.7" rx="2" fill="#253445"/><path d="M3.1 6.85H7.5M3.1 9.85H6" stroke="#fff" stroke-width="1.5"/></svg>
<div class="t" style="left:1148.7px;top:750.90px;font-size:14px;line-height:16px;color:#c3cad5;letter-spacing:0.000px;">1</div>
<div class="code" style="left:1197.60px;top:746.70px"><span class="k">SELECT</span></div>
<div class="t" style="left:1148.7px;top:774.90px;font-size:14px;line-height:16px;color:#c3cad5;letter-spacing:0.000px;">2</div>
<div class="code" style="left:1212.05px;top:770.70px">c.customer_id,</div>
<div class="t" style="left:1148.7px;top:798.90px;font-size:14px;line-height:16px;color:#c3cad5;letter-spacing:0.000px;">3</div>
<div class="code" style="left:1212.05px;top:794.70px">c.customer_name,</div>
<div class="t" style="left:1148.7px;top:822.90px;font-size:14px;line-height:16px;color:#c3cad5;letter-spacing:0.000px;">4</div>
<div class="code" style="left:1212.05px;top:818.70px">c.vip_level,</div>
<div class="t" style="left:1148.7px;top:846.90px;font-size:14px;line-height:16px;color:#c3cad5;letter-spacing:0.000px;">5</div>
<div class="code" style="left:1212.05px;top:842.70px">c.total_spent</div>
<div class="t" style="left:1148.7px;top:870.90px;font-size:14px;line-height:16px;color:#c3cad5;letter-spacing:0.000px;">6</div>
<div class="code" style="left:1197.60px;top:866.70px"><span class="k">FROM</span></div>
<div class="t" style="left:1148.7px;top:894.90px;font-size:14px;line-height:16px;color:#c3cad5;letter-spacing:0.000px;">7</div>
<div class="code" style="left:1212.05px;top:890.70px">customers c</div>
<div class="t" style="left:1148.7px;top:918.90px;font-size:14px;line-height:16px;color:#c3cad5;letter-spacing:0.000px;">8</div>
<div class="code" style="left:1197.60px;top:914.70px"><span class="k">WHERE</span></div>
<div class="t" style="left:1148.7px;top:942.90px;font-size:14px;line-height:16px;color:#c3cad5;letter-spacing:0.000px;">9</div>
<div class="code" style="left:1212.05px;top:938.70px">c.vip_level <span class="k">IN</span> (<span class="s">'gold'</span>, <span class="s">'platinum'</span>)</div>
<div class="t" style="left:1147.2px;top:966.90px;font-size:14px;line-height:16px;color:#c3cad5;letter-spacing:-0.500px;">10</div>
<div class="code" style="left:1212.05px;top:962.70px"><span class="k">AND</span> c.total_spent <span class="o">&gt;</span> <span class="o">5000</span></div>
<div class="b" style="left:1177px;top:986.7px;width:531.7px;height:24px;background:#e8fded"></div>
<div class="t" style="left:1147.2px;top:990.90px;font-size:14px;line-height:16px;color:#13b58a;letter-spacing:-0.500px;">11</div>
<div class="code" style="left:1212.05px;top:986.70px"><span class="k">AND NOT EXISTS</span> (</div>
<div class="b" style="left:1177px;top:1010.7px;width:531.7px;height:24px;background:#e8fded"></div>
<div class="t" style="left:1147.2px;top:1014.90px;font-size:14px;line-height:16px;color:#13b58a;letter-spacing:-0.500px;">12</div>
<div class="code" style="left:1226.50px;top:1010.70px"><span class="k">SELECT</span></div>
<div class="b" style="left:1177px;top:1034.7px;width:531.7px;height:24px;background:#e8fded"></div>
<div class="t" style="left:1147.2px;top:1038.90px;font-size:14px;line-height:16px;color:#13b58a;letter-spacing:-0.500px;">13</div>
<div class="code" style="left:1240.95px;top:1034.70px"><span class="o">1</span></div>
<div class="b" style="left:1177px;top:1058.7px;width:531.7px;height:24px;background:#e8fded"></div>
<div class="t" style="left:1147.2px;top:1062.90px;font-size:14px;line-height:16px;color:#13b58a;letter-spacing:-0.500px;">14</div>
<div class="code" style="left:1226.50px;top:1058.70px"><span class="k">FROM</span></div>
<div class="b" style="left:1177px;top:1082.7px;width:531.7px;height:24px;background:#e8fded"></div>
<div class="t" style="left:1147.2px;top:1086.90px;font-size:14px;line-height:16px;color:#13b58a;letter-spacing:-0.500px;">15</div>
<div class="code" style="left:1240.95px;top:1082.70px">order_items oi</div>
<div class="b" style="left:1177px;top:1106.7px;width:531.7px;height:24px;background:#e8fded"></div>
<div class="t" style="left:1147.2px;top:1110.90px;font-size:14px;line-height:16px;color:#13b58a;letter-spacing:-0.500px;">16</div>
<div class="code" style="left:1226.50px;top:1106.70px"><span class="k">WHERE</span></div>
<div class="b" style="left:1177px;top:1130.7px;width:531.7px;height:24px;background:#e8fded"></div>
<div class="t" style="left:1147.2px;top:1134.90px;font-size:14px;line-height:16px;color:#13b58a;letter-spacing:-0.500px;">17</div>
<div class="code" style="left:1240.95px;top:1130.70px">oi.customer_id <span class="o">=</span> c.customer_id</div>
<div class="b" style="left:1177px;top:1154.7px;width:531.7px;height:24px;background:#e8fded"></div>
<div class="t" style="left:1147.2px;top:1158.90px;font-size:14px;line-height:16px;color:#13b58a;letter-spacing:-0.500px;">18</div>
<div class="code" style="left:1240.95px;top:1154.70px"><span class="k">AND</span> oi.product_category <span class="o">=</span> <span class="s">'Electronics'</span></div>
<div class="b" style="left:1177px;top:1178.7px;width:531.7px;height:24px;background:#e8fded"></div>
<div class="t" style="left:1147.2px;top:1182.90px;font-size:14px;line-height:16px;color:#13b58a;letter-spacing:-0.500px;">19</div>
<div class="code" style="left:1212.05px;top:1178.70px">);</div>
<div class="b" style="left:533px;top:741px;width:1207px;height:1px;background:#e9ecf2"></div>
<div class="b" style="left:1135px;top:679px;width:1.5px;height:569px;background:#eceff6"></div>
<div class="b" style="left:1802px;top:116px;width:718px;height:200px;border-radius:12px;background:#fff;border:1px solid #eceff6"></div>
<div class="t" style="left:1822.60px;top:140.90px;font-size:14px;line-height:16px;color:#2f3a4a;word-spacing:-0.297px;"><span style="letter-spacing:0.297px">This</span> <span style="letter-spacing:-0.812px">SQL</span> <span style="letter-spacing:0.508px">uses</span> <span style="letter-spacing:-1.238px">GROUP</span> <span style="letter-spacing:-0.562px">BY</span> <span style="letter-spacing:0.842px">combined</span> <span style="letter-spacing:1.195px">with</span> <span style="letter-spacing:-0.794px">HAVING</span> <span style="letter-spacing:-0.431px">COUNT(...)</span> <span style="letter-spacing:0.516px">=</span> <span style="letter-spacing:1.188px">0</span> <span style="letter-spacing:1.586px">to</span> <span style="letter-spacing:0.916px">check</span> <span style="letter-spacing:1.312px">if</span> <span style="letter-spacing:0.266px">a</span> <span style="letter-spacing:0.934px">specific</span> <span style="letter-spacing:0.789px">record</span> <span style="letter-spacing:0.746px">does</span> <span style="letter-spacing:1.312px">not</span></div>
<div class="t" style="left:1822.60px;top:163.30px;font-size:14px;line-height:16px;color:#2f3a4a;word-spacing:-0.297px;"><span style="letter-spacing:0.884px">exist</span> <span style="letter-spacing:0.562px">in</span> <span style="letter-spacing:1.281px">the</span> <span style="letter-spacing:0.764px">order_items</span> <span style="letter-spacing:0.727px">table,</span> <span style="letter-spacing:0.881px">which</span> <span style="letter-spacing:0.352px">is</span> <span style="letter-spacing:0.700px">essentially</span> <span style="letter-spacing:0.531px">an</span> <span style="letter-spacing:0.816px">existence</span> <span style="letter-spacing:0.916px">check</span> <span style="letter-spacing:0.523px">scenario.</span> <span style="letter-spacing:0.781px">According</span> <span style="letter-spacing:1.586px">to</span></div>
<div class="t" style="left:1822.60px;top:185.70px;font-size:14px;line-height:16px;color:#2f3a4a;word-spacing:-0.297px;"><span style="letter-spacing:0.822px">rule0009</span> <span style="letter-spacing:-0.948px">(GROUP</span> <span style="letter-spacing:-0.562px">BY</span> <span style="letter-spacing:0.573px">clause</span> <span style="letter-spacing:0.633px">elimination)</span> <span style="letter-spacing:1.156px">for</span> <span style="letter-spacing:0.816px">existence</span> <span style="letter-spacing:0.798px">filtering,</span> <span style="letter-spacing:0.801px">when</span> <span style="letter-spacing:0.891px">only</span> <span style="letter-spacing:-0.217px">COUNT(...)=0</span> <span style="letter-spacing:0.352px">is</span> <span style="letter-spacing:0.627px">needed,</span> <span style="letter-spacing:1.438px">it</span></div>
<div class="t" style="left:1822.60px;top:208.10px;font-size:14px;line-height:16px;color:#2f3a4a;word-spacing:-0.297px;"><span style="letter-spacing:0.812px">can</span> <span style="letter-spacing:0.867px">be</span> <span style="letter-spacing:0.807px">rewritten</span> <span style="letter-spacing:0.289px">as</span> <span style="letter-spacing:0.266px">a</span> <span style="letter-spacing:-1.031px">NOT</span> <span style="letter-spacing:-0.812px">EXISTS</span> <span style="letter-spacing:0.861px">subquery,</span> <span style="letter-spacing:0.613px">avoiding</span> <span style="letter-spacing:1.281px">the</span> <span style="letter-spacing:0.570px">overhead</span> <span style="letter-spacing:1.445px">of</span> <span style="letter-spacing:0.850px">grouping</span> <span style="letter-spacing:0.672px">operations.</span> <span style="letter-spacing:0.164px">In</span> <span style="letter-spacing:1.012px">this</span></div>
<div class="t" style="left:1822.60px;top:230.50px;font-size:14px;line-height:16px;color:#2f3a4a;word-spacing:-0.297px;"><span style="letter-spacing:0.426px">example,</span> <span style="letter-spacing:1.398px">by</span> <span style="letter-spacing:0.590px">removing</span> <span style="letter-spacing:1.281px">the</span> <span style="letter-spacing:-0.727px">LEFT</span> <span style="letter-spacing:-0.426px">JOIN</span> <span style="letter-spacing:0.766px">and</span> <span style="letter-spacing:-1.238px">GROUP</span> <span style="letter-spacing:-0.562px">BY</span> <span style="letter-spacing:0.766px">and</span> <span style="letter-spacing:0.697px">using</span> <span style="letter-spacing:-1.031px">NOT</span> <span style="letter-spacing:-0.750px">EXISTS,</span> <span style="letter-spacing:1.281px">the</span> <span style="letter-spacing:0.896px">execution</span> <span style="letter-spacing:0.656px">plan</span></div>
<div class="t" style="left:1822.60px;top:252.90px;font-size:14px;line-height:16px;color:#2f3a4a;word-spacing:-0.297px;"><span style="letter-spacing:0.750px">becomes</span> <span style="letter-spacing:0.535px">more</span> <span style="letter-spacing:0.967px">efficient</span> <span style="letter-spacing:0.801px">when</span> <span style="letter-spacing:0.877px">verifying</span> <span style="letter-spacing:1.426px">that</span> <span style="letter-spacing:0.836px">no</span> <span style="letter-spacing:0.875px">matching</span> <span style="letter-spacing:0.953px">data</span> <span style="letter-spacing:0.632px">exists,</span> <span style="letter-spacing:0.804px">resulting</span> <span style="letter-spacing:0.562px">in</span> <span style="letter-spacing:0.266px">a</span> <span style="letter-spacing:0.918px">significant</span></div>
<div class="t" style="left:1822.60px;top:275.30px;font-size:14px;line-height:16px;color:#2f3a4a;word-spacing:-0.297px;"><span style="letter-spacing:0.832px">performance</span> <span style="letter-spacing:0.612px">improvement.</span></div>
<div class="b" style="left:1802px;top:337px;width:408.5px;height:64px;border-radius:12px;background:#fff;border:1px solid #eceff6"></div>
<div class="t" style="left:1822.60px;top:361.00px;font-size:14px;line-height:16px;color:#2f3a4a;word-spacing:-0.297px;"><span style="letter-spacing:0.419px">Could</span> <span style="letter-spacing:1.073px">you</span> <span style="letter-spacing:0.463px">share</span> <span style="letter-spacing:0.875px">another</span> <span style="letter-spacing:0.554px">example</span> <span style="letter-spacing:1.586px">to</span> <span style="letter-spacing:0.753px">illustrate</span> <span style="letter-spacing:1.012px">this</span> <span style="letter-spacing:0.559px">rule</span></div>
<div class="b" style="left:1802px;top:421px;width:292.6px;height:64px;border-radius:12px;background:#fff;border:1px solid #eceff6"></div>
<div class="t" style="left:1822.60px;top:445.00px;font-size:14px;line-height:16px;color:#2f3a4a;word-spacing:-0.297px;"><span style="letter-spacing:0.419px">Could</span> <span style="letter-spacing:1.073px">you</span> <span style="letter-spacing:0.612px">explain</span> <span style="letter-spacing:1.012px">this</span> <span style="letter-spacing:0.461px">rule’s</span> <span style="letter-spacing:0.750px">principle</span></div>
<div class="b" style="left:1792px;top:1080px;width:737.5px;height:169.5px;border-radius:12px;background:#fff;border:1px solid #eceff6"></div>
<div class="t" style="left:1813.00px;top:1102.70px;font-size:14px;line-height:16px;color:#adb1bc;word-spacing:-0.297px;"><span style="letter-spacing:0.722px">Let’s</span> <span style="letter-spacing:0.443px">Try</span> <span style="letter-spacing:0.451px">Asking</span> <span style="letter-spacing:0.859px">(0/3)</span></div>
<div class="b" style="left:2475px;top:1197px;width:34px;height:32px;border-radius:4px;background:linear-gradient(90deg,#5a3df5,#7c3ff5);box-shadow:0 2px 6px rgba(90,61,245,.3)"></div>
<svg style="left:2485px;top:1206px" width="14" height="14" viewBox="0 0 14 14"><path d="M13.4 0.6 L0.6 5.4 L4.2 7.2 L10.6 2.8 L5.6 8.2 L5.6 12.2 L7.6 9.6 L10.2 12.4 Z" fill="#fff"/></svg>
<div class="b" style="left:2519px;top:894.5px;width:60px;height:35.5px;opacity:.52"><div class="b" style="left:0;top:0;width:60px;height:35.5px;border-radius:18px;background:#fff;box-shadow:0 3px 10px rgba(0,0,0,.25)"></div><div class="b" style="left:5px;top:3.5px;width:28px;height:28px;border-radius:50%;background:#e6688f"></div></div>
<svg style="left:2524px;top:898px" width="28" height="28" viewBox="0 0 28 28" fill="none" stroke="#fff" stroke-width="1.3" stroke-linecap="round" stroke-linejoin="round" opacity=".92"><rect x="6.6" y="8.6" width="6.6" height="4.2"/><path d="M9.9 6.6V16.2"/><path d="M14.6 18.6 L17.3 11.4 L20 18.6 M15.6 16.3H19"/><path d="M16.5 7.2 C18.5 6.6 20 7.6 19.8 9.6"/><path d="M11.5 19.6 C9 20.2 7.4 19.2 7.6 17.4"/></svg>
</body></html>
